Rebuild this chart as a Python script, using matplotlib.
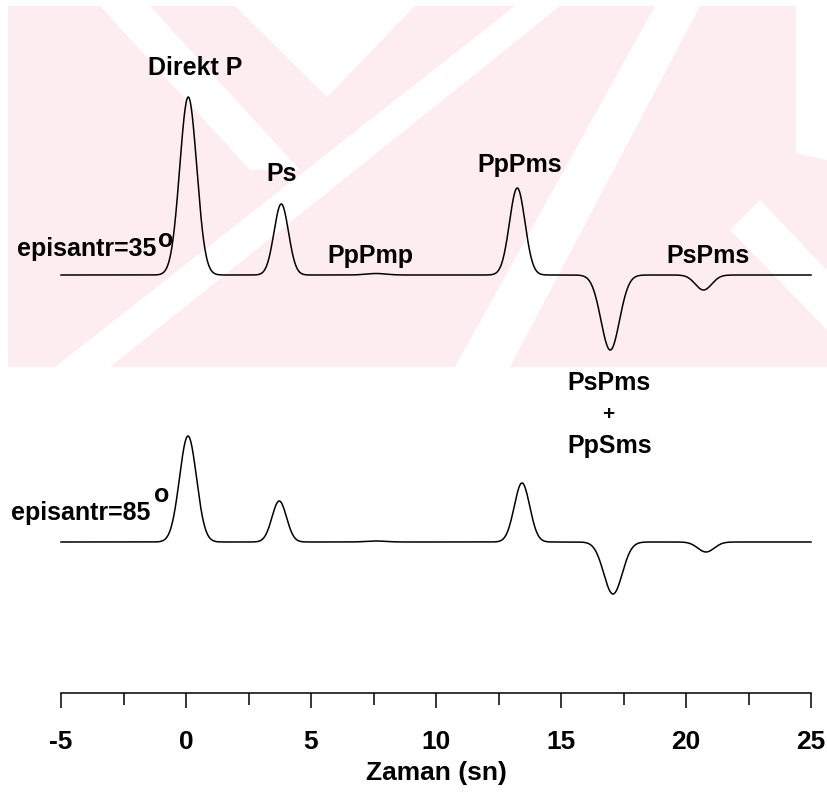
import numpy as np
import matplotlib
matplotlib.use("Agg")
import matplotlib.pyplot as plt
from matplotlib.patches import Polygon, Rectangle
from matplotlib.ticker import MultipleLocator

plt.rcParams['font.family'] = ['Liberation Sans', 'DejaVu Sans']
plt.rcParams['font.weight'] = 'bold'

# arrivals read off the two synthetic receiver functions
phases = ["Direkt P", "Ps", "PpPmp", "PpPms", "PsPms+PpSms", "PsPms"]
t_35 = [0.09, 3.81, 7.6, 13.25, 16.97, 20.70]
amp_35 = [178, 71, 1.5, 87, -75, -15]
t_85 = [0.08, 3.73, 7.6, 13.44, 17.08, 20.80]
amp_85 = [106, 41, 1.0, 59, -52, -10]
width = [0.34, 0.29, 0.40, 0.31, 0.37, 0.33]   # gaussian pulse widths (s)

t_start, t_end = -5, 25
xticks = [-5, 0, 5, 10, 15, 20, 25]

W, H = 827, 795
PINK = "#fdedf0"


def pulse_trace(t, arrivals, amps, widths):
    y = np.zeros_like(t)
    for t0, a, s in zip(arrivals, amps, widths):
        y += a * np.exp(-0.5 * ((t - t0) / s) ** 2)
    return y


fig = plt.figure(figsize=(W / 100, H / 100), dpi=100)

# background watermark, in pixel units
bg = fig.add_axes([0, 0, 1, 1])
bg.set_xlim(0, W)
bg.set_ylim(H, 0)
bg.axis("off")
bg.add_patch(Rectangle((8, 6), W - 8, 361, color=PINK, lw=0))
white_shapes = [
    [(100, 6), (150, 6), (300, 170), (250, 170)],
    [(235, 6), (415, 6), (327, 97)],
    [(515, 6), (560, 6), (110, 367), (55, 367)],
    [(655, 6), (700, 6), (510, 367), (455, 367)],
    [(796, 6), (827, 6), (827, 160), (796, 153)],
    [(760, 200), (827, 270), (827, 330), (730, 230)],
]
for pts in white_shapes:
    bg.add_patch(Polygon(pts, closed=True, color="white", lw=0))

# traces: seconds along x, pixel rows along y
ax = fig.add_axes([0, 0, 1, 1])
ax.set_xlim(t_start - 61 / 25, t_start + (W - 61) / 25)
ax.set_ylim(H, 0)
ax.axis("off")
ax.patch.set_alpha(0)

t = np.linspace(t_start, t_end, 3001)
base_35, base_85 = 275, 542
ax.plot(t, base_35 - pulse_trace(t, t_35, amp_35, width), color="black", lw=1.1)
ax.plot(t, base_85 - pulse_trace(t, t_85, amp_85, width), color="black", lw=1.1)

fs = 18
bg.text(195, 75, "Direkt P", ha="center", va="baseline", fontsize=fs)
bg.text(282, 181, "Ps", ha="center", va="baseline", fontsize=fs)
bg.text(370, 263, "PpPmp", ha="center", va="baseline", fontsize=fs)
bg.text(520, 172, "PpPms", ha="center", va="baseline", fontsize=fs)
bg.text(708, 263, "PsPms", ha="center", va="baseline", fontsize=fs)
bg.text(609, 390, "PsPms", ha="center", va="baseline", fontsize=fs)
bg.text(608, 415, "+", ha="center", va="center", fontsize=fs - 3)
bg.text(610, 453, "PpSms", ha="center", va="baseline", fontsize=fs)

bg.text(156, 256, "episantr=35", ha="right", va="baseline", fontsize=fs)
bg.text(158, 247, "o", ha="left", va="baseline", fontsize=fs)
bg.text(150, 520, "episantr=85", ha="right", va="baseline", fontsize=fs)
bg.text(154, 502, "o", ha="left", va="baseline", fontsize=fs)

# time axis
axt = fig.add_axes([61 / W, (H - 693) / H, 750 / W, 0.001])
axt.set_xlim(t_start, t_end)
for side in ["left", "right", "top"]:
    axt.spines[side].set_visible(False)
axt.spines["bottom"].set_linewidth(1.1)
axt.patch.set_alpha(0)
axt.set_yticks([])
axt.set_xticks(xticks)
axt.set_xticklabels([str(v) for v in xticks])
axt.xaxis.set_minor_locator(MultipleLocator(2.5))
axt.tick_params(axis="x", which="major", direction="out", length=10.8, width=1.1,
                pad=16, labelsize=19)
axt.tick_params(axis="x", which="minor", direction="out", length=8.4, width=1.1)
axt.set_xlabel("Zaman (sn)", fontsize=19, fontweight="bold", labelpad=5)

fig.savefig("out.png", dpi=100)
